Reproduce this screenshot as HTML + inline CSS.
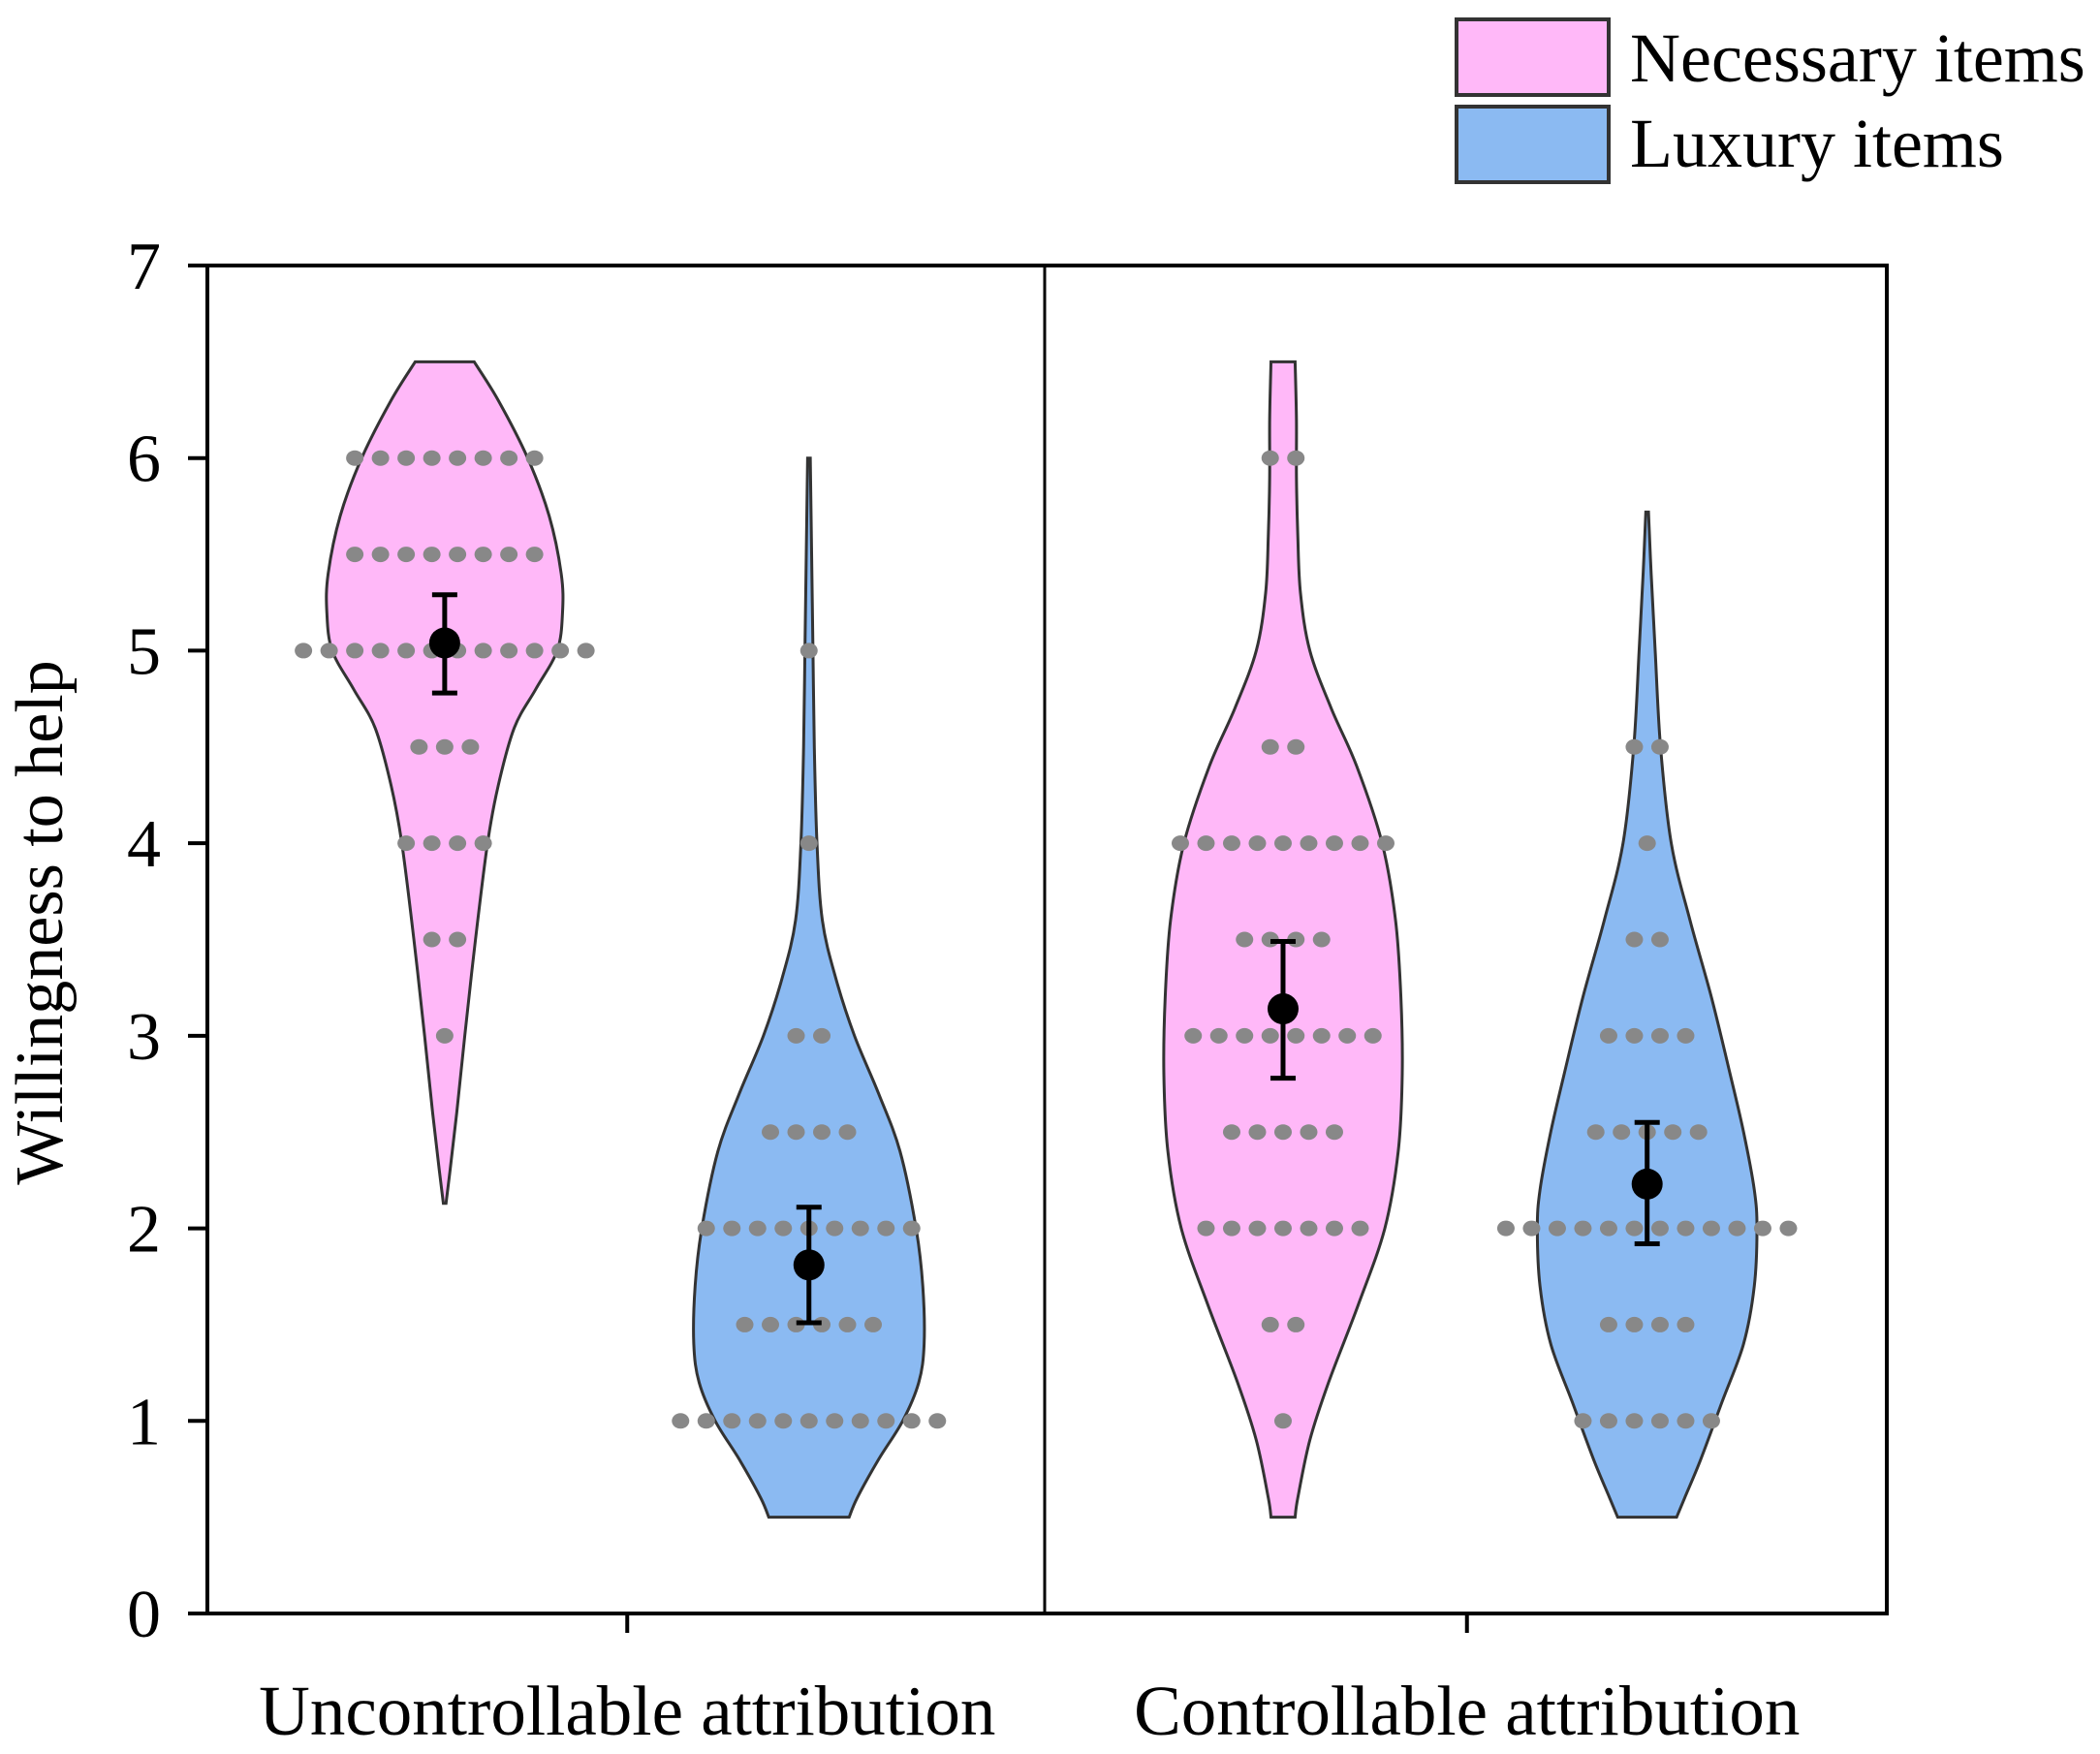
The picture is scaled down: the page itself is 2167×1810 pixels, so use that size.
<!DOCTYPE html>
<html><head><meta charset="utf-8"><style>
body{margin:0;background:#fff}
svg{display:block}
text{font-family:"Liberation Serif",serif;fill:#000}
</style></head><body>
<svg id="chart" width="2167" height="1810" viewBox="0 0 2167 1810" xmlns="http://www.w3.org/2000/svg">
<g id="legend">
 <rect x="1503" y="20" width="157" height="78" fill="#ffb8f8" stroke="#333" stroke-width="4"/>
 <text x="1682" y="84" font-size="72">Necessary items</text>
 <rect x="1503" y="110" width="157" height="78" fill="#8bbaf2" stroke="#333" stroke-width="4"/>
 <text x="1682" y="172" font-size="72">Luxury items</text>
</g>
<g id="plot"></g>
<rect x="214" y="274" width="1733" height="1391" fill="none" stroke="#000" stroke-width="4"/>
<line x1="1078" y1="274" x2="1078" y2="1665" stroke="#000" stroke-width="3"/>
<text transform="translate(64,952) rotate(-90)" text-anchor="middle" font-size="70">Willingness to help</text>
</svg>
<script>
const yTicks=[0,1,2,3,4,5,6,7];
const categories=["Uncontrollable attribution","Controllable attribution"];
const groupNames=["necessary","luxury"];
const colors=["#ffb8f8","#8bbaf2"];
// violin outlines: y levels and half-widths (density units)
const v1Y=[6.5,6.3,6,5.7,5.4,5.2,5,4.8,4.6,4.3,4,3.5,3,2.6,2.3,2.13];
const v1W=[22,40,62,78,87,88,84,68,52,40,32,23,15,9,4,1];
const v2Y=[6,5.5,5,4.5,4,3.6,3.3,3,2.7,2.4,2,1.7,1.4,1.2,1,0.8,0.6,0.5];
const v2W=[1,2,3,4,6,10,20,34,52,68,80,85,86,82,70,52,36,30];
const v3Y=[6.5,6.2,5.9,5.6,5.3,5,4.7,4.4,4,3.6,3.2,2.8,2.4,2,1.6,1.2,0.9,0.6,0.5];
const v3W=[9,10,10,11,13,20,36,55,74,84,88,89,86,76,56,34,20,11,9];
const v4Y=[5.72,5.4,5,4.5,4,3.6,3.2,2.8,2.5,2.2,2,1.7,1.4,1.1,0.8,0.6,0.5];
const v4W=[1,3,6,10,18,32,48,62,72,80,82,80,72,56,40,28,22];
// dot strips: values and counts
const v1Vals=[6,5.5,5,4.5,4,3.5,3]; const v1Cnt=[8,8,12,3,4,2,1];
const v2Vals=[5,4,3,2.5,2,1.5,1]; const v2Cnt=[1,1,2,4,9,6,11];
const v3Vals=[6,4.5,4,3.5,3,2.5,2,1.5,1]; const v3Cnt=[2,2,9,4,8,5,7,2,1];
const v4Vals=[4.5,4,3.5,3,2.5,2,1.5,1]; const v4Cnt=[2,1,2,4,5,12,4,6];
// means and CIs
const means=[5.04,1.81,3.14,2.23];
const ciLow=[4.78,1.51,2.78,1.92];
const ciHigh=[5.29,2.11,3.49,2.55];

const NS="http://www.w3.org/2000/svg";
const X0=214,X1=1947,Y0=1665,Y1=274;
const yS=v=>Y0-(v-0)/(7-0)*(Y0-Y1);
const slotX=i=>X0+(X1-X0)*[0.1413,0.3582,0.6405,0.8573][i];
const catX=i=>X0+(X1-X0)*(i===0?0.25:0.75);
const wS=w=>w*1.382;
const plot=document.getElementById('plot');
function mk(t,a,p){const e=document.createElementNS(NS,t);for(const k in a)e.setAttribute(k,a[k]);(p||plot).appendChild(e);return e;}

yTicks.forEach(t=>{
 const l=mk('line',{x1:X0-20,x2:X0,y1:yS(t),y2:yS(t),stroke:'#000','stroke-width':4});
 
 
 const tx=mk('text',{x:X0-48,y:yS(t)+24,'text-anchor':'end','font-size':70});
 tx.textContent=t;
 
 
});
categories.forEach((c,i)=>{
 const l=mk('line',{x1:catX(i),x2:catX(i),y1:Y0,y2:Y0+20,stroke:'#000','stroke-width':4});
 
 
 const tx=mk('text',{x:catX(i),y:1790,'text-anchor':'middle','font-size':73});
 tx.textContent=c;
 
 
});

function smooth(pts){
 let d='';
 for(let i=0;i<pts.length-1;i++){
  const p0=pts[Math.max(0,i-1)],p1=pts[i],p2=pts[i+1],p3=pts[Math.min(pts.length-1,i+2)];
  const c1=[p1[0]+(p2[0]-p0[0])/6,p1[1]+(p2[1]-p0[1])/6];
  const c2=[p2[0]-(p3[0]-p1[0])/6,p2[1]-(p3[1]-p1[1])/6];
  d+=` C${c1[0]},${c1[1]} ${c2[0]},${c2[1]} ${p2[0]},${p2[1]}`;
 }
 return d;
}
const vY=[v1Y,v2Y,v3Y,v4Y],vW=[v1W,v2W,v3W,v4W];
const dV=[v1Vals,v2Vals,v3Vals,v4Vals],dC=[v1Cnt,v2Cnt,v3Cnt,v4Cnt];
for(let k=0;k<4;k++){
 const cx=slotX(k);
 const right=vY[k].map((y,i)=>[cx+wS(vW[k][i]),yS(y)]);
 const left=vY[k].map((y,i)=>[cx-wS(vW[k][i]),yS(y)]).reverse();
 let d=`M${cx-wS(vW[k][0])},${yS(vY[k][0])} L${right[0][0]},${right[0][1]}`+smooth(right)+` L${left[0][0]},${left[0][1]}`+smooth(left)+'Z';
 const g=groupNames[k%2];
 const p=mk('path',{d:d,fill:colors[k%2],stroke:'#333','stroke-width':3});
 
 
 dV[k].forEach((v,i)=>{
  const n=dC[k][i];
  for(let j=0;j<n;j++){
   const c=mk('ellipse',{cx:cx+(j-(n-1)/2)*26.5,cy:yS(v),rx:9,ry:8,fill:'#888'});
   
   
  }
 });
 const e=mk('line',{x1:cx,x2:cx,y1:yS(ciLow[k]),y2:yS(ciHigh[k]),stroke:'#000','stroke-width':5});
 
 
 [ciLow[k],ciHigh[k]].forEach(v=>{
  const c=mk('line',{x1:cx-13,x2:cx+13,y1:yS(v),y2:yS(v),stroke:'#000','stroke-width':5});
  
  
 });
 const m=mk('circle',{cx:cx,cy:yS(means[k]),r:16,fill:'#000'});
 
 
}
</script>
</body></html>
